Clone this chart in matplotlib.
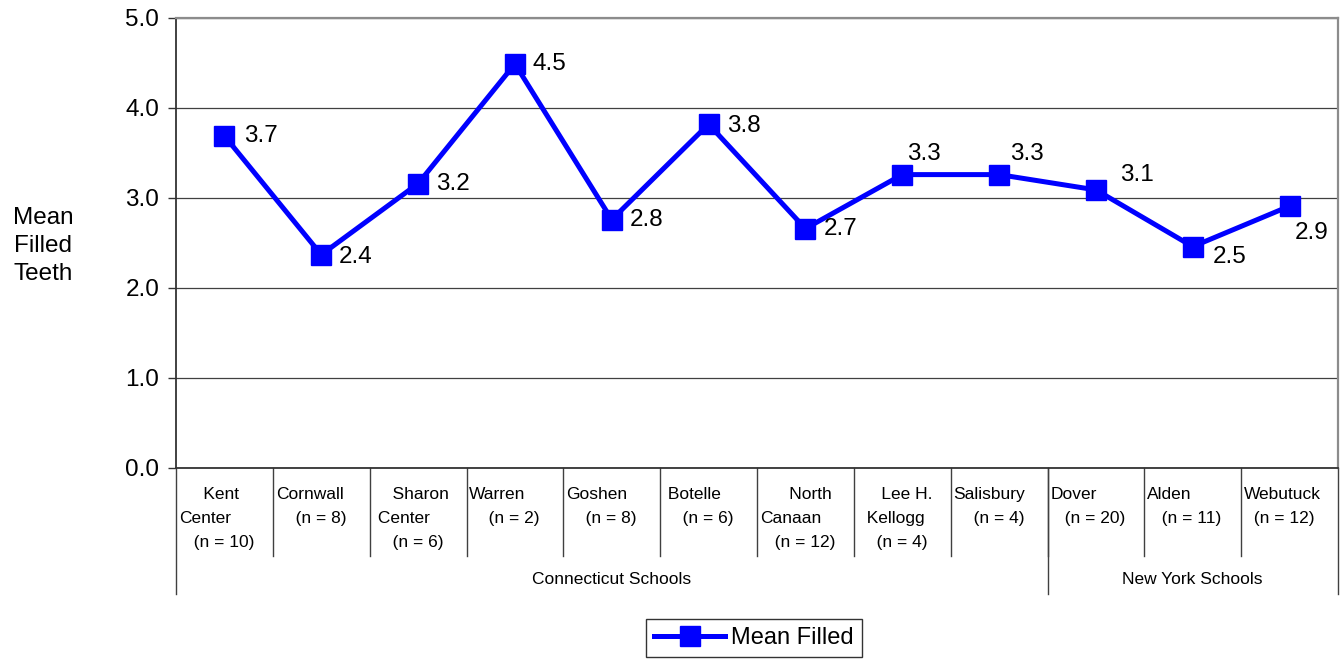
import numpy as np
import matplotlib
matplotlib.use("Agg")
import matplotlib.pyplot as plt

plt.rcParams["font.family"] = ["Liberation Sans", "DejaVu Sans"]

# school labels as they wrap in the category cells
schools = [
    "     Kent\nCenter\n   (n = 10)",
    "Cornwall\n    (n = 8)",
    "    Sharon\n Center\n    (n = 6)",
    "Warren\n    (n = 2)",
    "Goshen\n    (n = 8)",
    " Botelle\n    (n = 6)",
    "      North\nCanaan\n   (n = 12)",
    "     Lee H.\n  Kellogg\n    (n = 4)",
    "Salisbury\n    (n = 4)",
    "Dover\n   (n = 20)",
    "Alden\n   (n = 11)",
    "Webutuck\n  (n = 12)",
]
mean_filled = [3.69, 2.37, 3.16, 4.49, 2.76, 3.82, 2.66, 3.26, 3.26, 3.09, 2.46, 2.91]

groups = ["Connecticut Schools", "New York Schools"]
group_sizes = [9, 3]

# label placement (pixels from marker centre)
label_offsets = [(20, 0), (18, -2), (18, 0), (18, 0), (18, 0), (18, -2),
                 (18, 0), (5, 21), (11, 21), (24, 15), (20, -10), (5, -27)]

W, H = 1341, 660
fig = plt.figure(figsize=(W / 100, H / 100), dpi=100)
ax = fig.add_axes([176 / W, 1 - 468 / H, (1338 - 176) / W, 450 / H])

x = np.arange(len(schools))
ax.plot(x, mean_filled, color="#0000ff", linewidth=3.6, marker="s",
        markersize=14, label="Mean Filled", zorder=3)

for xi, v, (dx, dy) in zip(x, mean_filled, label_offsets):
    ax.annotate(f"{v:.1f}", (xi, v), xytext=(dx, dy), textcoords="offset pixels",
                ha="left", va="center", fontsize=17.5, zorder=4)

ax.set_xlim(-0.5, len(schools) - 0.5)
ax.set_ylim(0, 5)
ax.set_yticks(np.arange(0, 5.01, 1.0))
ax.set_yticklabels([f"{t:.1f}" for t in np.arange(0, 5.01, 1.0)], fontsize=17.5)
ax.tick_params(axis="y", direction="out", length=6, width=1, color="#333333", pad=6)
ax.set_xticks([])
ax.grid(axis="y", color="#404040", linewidth=0.9)
ax.set_axisbelow(True)

for side in ["top", "right"]:
    ax.spines[side].set_color("#8c8c8c")
    ax.spines[side].set_linewidth(1.6)
for side in ["left", "bottom"]:
    ax.spines[side].set_color("#333333")
    ax.spines[side].set_linewidth(1.3)

# category cell lines and labels under the axis
trans = ax.get_xaxis_transform()
cell_bottom = -88 / 450
group_bottom = -126 / 450
for i in range(1, len(schools)):
    ax.plot([i - 0.5, i - 0.5], [0, cell_bottom], transform=trans, color="#404040",
            linewidth=1, clip_on=False)
for i, name in enumerate(schools):
    ax.text(i - 0.5 + 0.03, -19 / 450, name, transform=trans, ha="left", va="top",
            fontsize=12.5, linespacing=1.75)

start = 0
edges = [-0.5]
for g, n in zip(groups, group_sizes):
    ax.text(start - 0.5 + n / 2, -112 / 450, g, transform=trans, ha="center",
            va="center", fontsize=12.5)
    start += n
    edges.append(start - 0.5)
for e in edges:
    ax.plot([e, e], [0, group_bottom], transform=trans, color="#404040",
            linewidth=1, clip_on=False)

fig.text(43 / W, 1 - 246 / H, "Mean\nFilled\nTeeth", ha="center", va="center",
         fontsize=17.5, linespacing=1.35)

leg = fig.legend(loc="center", bbox_to_anchor=(754 / W, 1 - 638 / H), fontsize=17,
                 frameon=True, fancybox=False, edgecolor="black", handlelength=3,
                 borderpad=0.35, handletextpad=0.25, borderaxespad=0)
leg.get_frame().set_linewidth(1)

fig.savefig("out.png", dpi=100)
